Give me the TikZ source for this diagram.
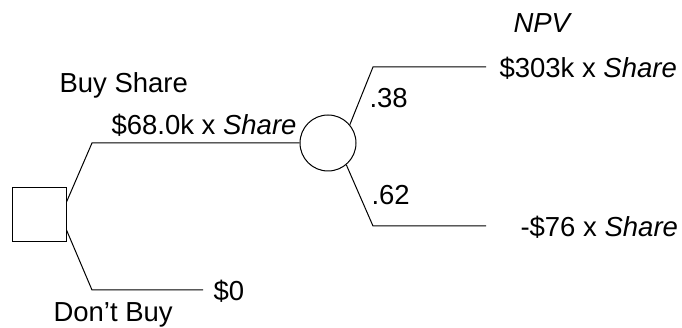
\documentclass[tikz,border=0pt]{standalone}
\usepackage{fontspec}
\setmainfont{Liberation Sans}
\begin{document}
\begin{tikzpicture}[x=1pt,y=-1pt,line width=1pt,
  lbl/.style={inner sep=0pt,font=\fontsize{27.5}{33}\selectfont},
  dec/.style={draw,rectangle,minimum size=54pt,inner sep=0pt},
  chance/.style={draw,circle,minimum size=56pt,inner sep=0pt}]
\useasboundingbox (0,0) rectangle (682,328);
\node[dec] (sq) at (39,214.5) {};
\node[chance] (ch) at (328,143) {};
\coordinate (a1) at (92,143);
\coordinate (a2) at (92,290);
\coordinate (b2) at (203,290);
\coordinate (c1) at (373,67);
\coordinate (c2) at (486,67);
\coordinate (d1) at (373,226);
\coordinate (d2) at (486,226);
\draw ([yshift=12.5pt]sq.east) -- (a1) -- (ch.west);
\draw ([yshift=-15.5pt]sq.east) -- (a2) -- (b2);
\draw (ch.40) -- (c1) -- (c2);
\draw (ch.-50) -- (d1) -- (d2);
\node[lbl,anchor=west] (buy) at (59,85) {Buy Share};
\node[lbl,anchor=west] (v1) at (111,125) {\$68.0k x \textit{Share}};
\node[lbl,anchor=west] (dont) at (53,315) {Don’t Buy};
\node[lbl,anchor=west] (zero) at (213,291) {\$0};
\node[lbl,anchor=west] (npv) at (513,23) {\textit{NPV}};
\node[lbl,anchor=west] (up) at (499,68) {\$303k x \textit{Share}};
\node[lbl,anchor=west] (dn) at (520,227) {-\$76 x \textit{Share}};
\node[lbl,anchor=west] (p1) at (369,98) {.38};
\node[lbl,anchor=west] (p2) at (371,195) {.62};
\end{tikzpicture}
\end{document}
